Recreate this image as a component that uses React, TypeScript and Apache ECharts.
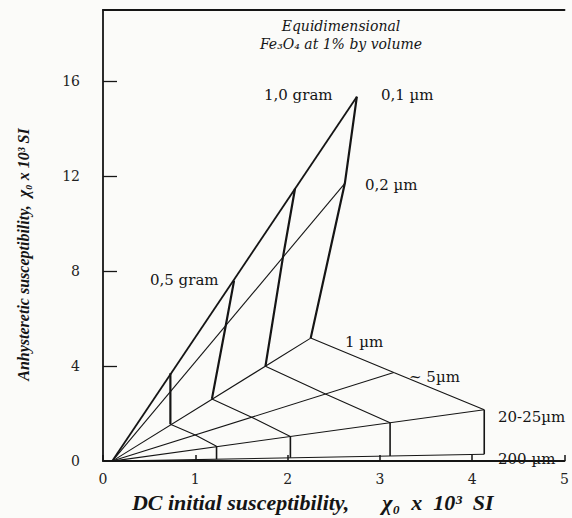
import React, { useEffect, useRef } from "react";
import * as echarts from "echarts";

// Grain sizes (lines radiating from the origin) and concentrations
const grainSizes = ["0,1 µm", "0,2 µm", "1 µm", "~ 5µm", "20-25µm", "200 µm"];
const concentrations = ["1,0 gram", "0,75 gram", "0,5 gram", "0,25 gram"];
const originPoint = [0.1, 0];

// DC initial susceptibility (x 10^3 SI), rows = concentration, cols = grain size
const dcSusceptibility: number[][] = [
  [2.75, 2.62, 2.25, 3.15, 4.13, 4.13],
  [2.08, 1.95, 1.76, 2.41, 3.11, 3.11],
  [1.42, 1.33, 1.18, 1.61, 2.03, 2.03],
  [0.73, 0.73, 0.73, 1.0, 1.23, 1.23],
];
// Anhysteretic susceptibility (x 10^3 SI)
const arSusceptibility: number[][] = [
  [15.35, 11.7, 5.18, 3.73, 2.16, 0.29],
  [11.47, 8.6, 4.0, 2.83, 1.62, 0.22],
  [7.6, 5.71, 2.62, 1.85, 1.04, 0.14],
  [3.7, 2.93, 1.55, 1.1, 0.63, 0.08],
];

const xTicks = [0, 1, 2, 3, 4, 5];
const yTicks = [0, 4, 8, 12, 16];

const INK = "#151515";
const DEJAVU = "DejaVu Serif";
const LIB = "Liberation Serif";

export default function App() {
  const ref = useRef<HTMLDivElement>(null);
  useEffect(() => {
    if (!ref.current) return;
    const chart = echarts.init(ref.current, null, { renderer: "svg" });

    const pt = (c: number, g: number) => [dcSusceptibility[c][g], arSusceptibility[c][g]];

    const series: any[] = [];
    grainSizes.forEach((name, g) => {
      series.push({
        name,
        type: "line",
        symbol: "none",
        data: [originPoint, pt(0, g)],
        lineStyle: { color: INK, width: g === 0 ? 1.8 : 1.1 },
        z: 2,
      });
    });
    concentrations.forEach((name, c) => {
      series.push({
        name: name + " (fine)",
        type: "line",
        symbol: "none",
        data: [0, 1, 2].map((g) => pt(c, g)),
        lineStyle: { color: INK, width: 2.2 },
        z: 3,
      });
      series.push({
        name: name + " (coarse)",
        type: "line",
        symbol: "none",
        data: [2, 3, 4].map((g) => pt(c, g)),
        lineStyle: { color: INK, width: 1.1 },
        z: 3,
      });
      series.push({
        name: name + " (200)",
        type: "line",
        symbol: "none",
        data: [4, 5].map((g) => pt(c, g)),
        lineStyle: { color: INK, width: 1.6 },
        z: 3,
      });
    });

    const label = (text: string, x: number, y: number, size = 15, extra: any = {}) => ({
      type: "text",
      x,
      y,
      style: {
        text,
        fill: INK,
        fontFamily: DEJAVU,
        fontSize: size,
        verticalAlign: "middle",
        ...extra,
      },
    });

    const option: any = {
      animation: false,
      backgroundColor: "#fbfbf9",
      grid: { left: 103, top: 10, right: 3, bottom: 45, containLabel: false },
      xAxis: [
        {
          type: "value",
          min: 0,
          max: 5,
          interval: 1,
          axisLine: { show: true, onZero: false, lineStyle: { color: INK, width: 1.8 } },
          axisTick: { show: true, inside: true, length: 6, customValues: xTicks, lineStyle: { color: INK, width: 1.5 } },
          axisLabel: { customValues: xTicks, margin: 11, color: "#222", fontSize: 14, fontFamily: DEJAVU },
          splitLine: { show: false },
          name: "DC initial susceptibility,      χ₀  x  10³  SI",
          nameLocation: "middle",
          nameGap: 24,
          nameTextStyle: {
            fontFamily: LIB,
            fontStyle: "italic",
            fontWeight: "bold",
            fontSize: 22,
            color: INK,
            padding: [0, 42, 0, 0],
          },
        },
        {
          type: "value",
          position: "top",
          min: 0,
          max: 5,
          axisLine: { show: true, onZero: false, lineStyle: { color: INK, width: 1.8 } },
          axisTick: { show: false },
          axisLabel: { show: false },
          splitLine: { show: false },
        },
      ],
      yAxis: {
        type: "value",
        min: 0,
        max: 19,
        interval: 4,
        axisLine: { show: true, onZero: false, lineStyle: { color: INK, width: 1.8 } },
        axisTick: { show: true, inside: true, length: 14, customValues: yTicks.slice(1), lineStyle: { color: INK, width: 1.3 } },
        axisLabel: { customValues: yTicks, margin: 23, color: "#222", fontSize: 14, fontFamily: DEJAVU },
        splitLine: { show: false },
        name: "Anhysteretic susceptibility,  χ₀ x 10³ SI",
        nameLocation: "middle",
        nameGap: 72,
        nameRotate: 90,
        nameTextStyle: {
          fontFamily: LIB,
          fontStyle: "italic",
          fontWeight: "bold",
          fontSize: 16,
          color: INK,
          padding: [0, 38, 0, 0],
        },
      },
      series,
      graphic: [
        label("Equidimensional", 341, 26, 14, { align: "center", fontStyle: "italic" }),
        label("Fe₃O₄ at 1% by volume", 341, 44, 14, { align: "center", fontStyle: "italic" }),
        label(concentrations[0], 264, 95, 15),
        label(grainSizes[0], 381, 95, 15),
        label(grainSizes[1], 365, 185, 15),
        label(concentrations[2], 150, 280, 15),
        label(grainSizes[2], 345, 342, 15),
        label(grainSizes[3], 409, 377, 15),
        label(grainSizes[4], 498, 417, 15),
        label(grainSizes[5], 498, 459, 15),
      ],
    };
    chart.setOption(option);
    return () => chart.dispose();
  }, []);

  return (
    <div
      ref={ref}
      style={{ position: "fixed", left: 0, top: 0, width: 572, height: 518 }}
    />
  );
}
